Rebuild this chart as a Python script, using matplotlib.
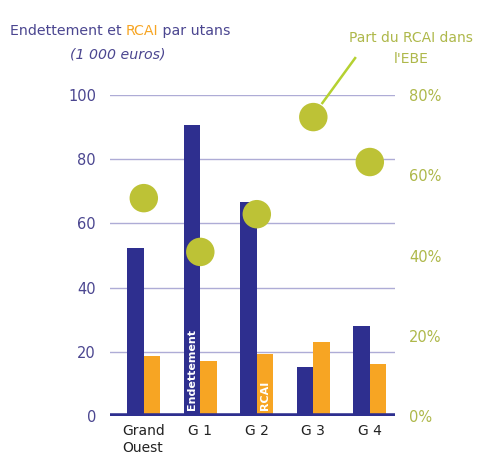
import numpy as np
import matplotlib.pyplot as plt

groups = ["Grand\nOuest", "G 1", "G 2", "G 3", "G 4"]
endettement = [52.3, 90.6, 66.7, 15.3, 28.0]
rcai = [18.7, 17.1, 19.3, 23.0, 16.2]
part_rcai = [54.3, 40.9, 50.3, 74.5, 63.3]  # % de l'EBE

navy = "#2E2F8F"
orange = "#F7A523"
olive = "#BDC236"
olive_txt = "#AEB84A"
purple_txt = "#4B4690"
grid_col = "#AEACD6"

fig = plt.figure(figsize=(4.82, 4.68), dpi=100)
ax = fig.add_axes([0.228, 0.111, 0.592, 0.686])
ax2 = ax.twinx()

x = np.arange(len(groups))
w = 0.29
ax.bar(x - w / 2, endettement, w, color=navy, zorder=2)
ax.bar(x + w / 2, rcai, w, color=orange, zorder=2)

ax.set_ylim(0, 100)
ax.set_xlim(-0.6, 4.45)
ax.set_yticks(range(0, 101, 20))
for v in range(20, 101, 20):
    ax.axhline(v, color=grid_col, lw=1, zorder=1)
ax.axhline(0, color=navy, lw=4, zorder=3, solid_capstyle="round")

ax.set_xticks(x)
ax.set_xticklabels(groups, fontsize=10, color="#222222", ha="center", va="top")
ax.tick_params(axis="x", length=0, pad=6)
ax.tick_params(axis="y", length=0, labelsize=10.5, labelcolor=purple_txt, pad=10)
for lab in ax.get_xticklabels():
    lab.set_multialignment("left")
for s in ax.spines.values():
    s.set_visible(False)

ax.text(x[1] - w / 2, 2, "Endettement", rotation=90, color="white", fontsize=8,
        fontweight="bold", ha="center", va="bottom", zorder=4)
ax.text(x[2] + w / 2, 2, "RCAI", rotation=90, color="white", fontsize=8,
        fontweight="bold", ha="center", va="bottom", zorder=4)

ax2.set_ylim(0, 80)
ax2.set_yticks(range(0, 81, 20))
ax2.set_yticklabels([f"{v}%" for v in range(0, 81, 20)])
ax2.tick_params(axis="y", length=0, labelsize=10.5, labelcolor=olive_txt, pad=10)
for s in ax2.spines.values():
    s.set_visible(False)
ax2.scatter(x, part_rcai, s=420, color=olive, zorder=5, edgecolors="none")

# leader line from the label to the G 3 dot
ax2.plot([3.16, 3.74], [78.0, 89.2], color="#B5D131", lw=1.8, clip_on=False)

# title in three colours on one line
t1 = fig.text(0.02, 0.925, "Endettement et ", color=purple_txt, fontsize=10.2,
              ha="left", va="baseline")
t2 = ax.annotate("RCAI", xy=(1, 0), xycoords=t1, color=orange, fontsize=10.2,
                 ha="left", va="bottom")
ax.annotate(" par utans", xy=(1, 0), xycoords=t2, color=purple_txt, fontsize=10.2,
            ha="left", va="bottom")
fig.text(0.245, 0.876, "(1 000 euros)", color=purple_txt, fontsize=10.2,
         style="italic", ha="center")
fig.text(0.853, 0.86, "Part du RCAI dans\nl'EBE", color=olive_txt, fontsize=10,
         ha="center", va="bottom", linespacing=1.6)

fig.savefig("out.png", dpi=100)
